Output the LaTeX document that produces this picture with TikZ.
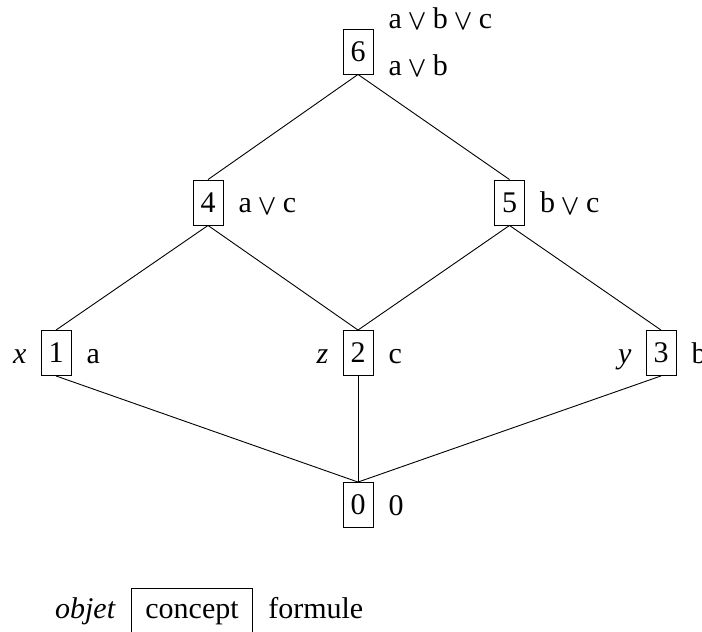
\documentclass[tikz,border=0pt]{standalone}
\usepackage{graphicx}
\usepackage{fontspec}
\setmainfont{Liberation Serif}
\usetikzlibrary{calc}
\newcommand{\bigor}{\hspace{6.5pt}\raisebox{-5pt}{\resizebox*{18pt}{20pt}{\raisebox{\depth}{$\bigvee$}}}\hspace{6.5pt}}
\begin{document}
\begin{tikzpicture}[x=1pt,y=-1pt,
  every node/.style={font=\fontsize{30}{36}\selectfont},
  cbox/.style={draw,line width=0.9pt,minimum width=30pt,minimum height=45pt,inner sep=0pt},
  lbox/.style={draw,line width=0.9pt,inner xsep=14pt,inner ysep=7.5pt,text height=22.5pt,text depth=7.5pt},
  rlab/.style={anchor=base west,inner sep=0pt},
  llab/.style={anchor=base east,inner sep=0pt},
  edge/.style={line width=0.9pt}]
\useasboundingbox (0,0) rectangle (702,632);
\node[cbox] (n6) at (358,51.5) {6};
\node[cbox] (n4) at (208,202.5) {4};
\node[cbox] (n5) at (509.5,202.5) {5};
\node[cbox] (n1) at (56,353) {1};
\node[cbox] (n2) at (358,353) {2};
\node[cbox] (n3) at (661,353) {3};
\node[cbox] (n0) at (358,505) {0};
\draw[edge] (n6.south) -- (n4.north);
\draw[edge] (n6.south) -- (n5.north);
\draw[edge] (n4.south) -- (n1.north);
\draw[edge] (n4.south) -- (n2.north);
\draw[edge] (n5.south) -- (n2.north);
\draw[edge] (n5.south) -- (n3.north);
\draw[edge] (n1.south) -- (n0.north);
\draw[edge] (n2.south) -- (n0.north);
\draw[edge] (n3.south) -- (n0.north);
\node[rlab] (l6a) at ($(n6.east)+(15,-23.5)$) {a\bigor b\bigor c};
\node[rlab] (l6b) at ($(n6.east)+(15,23.5)$) {a\bigor b};
\node[rlab] (l4) at ($(n4.east)+(15,10)$) {a\bigor c};
\node[rlab] (l5) at ($(n5.east)+(15,10)$) {b\bigor c};
\node[rlab] (l1) at ($(n1.east)+(15,10)$) {a};
\node[rlab] (l2) at ($(n2.east)+(15,10)$) {c};
\node[rlab] (l3) at ($(n3.east)+(15,10)$) {b};
\node[rlab] (l0) at ($(n0.east)+(15,10)$) {0};
\node[llab] (o1) at ($(n1.west)+(-14,10)$) {\textit{x}};
\node[llab] (o2) at ($(n2.west)+(-14,10)$) {\textit{z}};
\node[llab] (o3) at ($(n3.west)+(-14,10)$) {\textit{y}};
\node[lbox] (leg) at (192,610.5) {concept};
\node[llab] (lego) at ($(leg.west)+(-15,7.5)$) {\textit{objet}};
\node[rlab] (legf) at ($(leg.east)+(15,7.5)$) {formule};
\end{tikzpicture}
\end{document}
